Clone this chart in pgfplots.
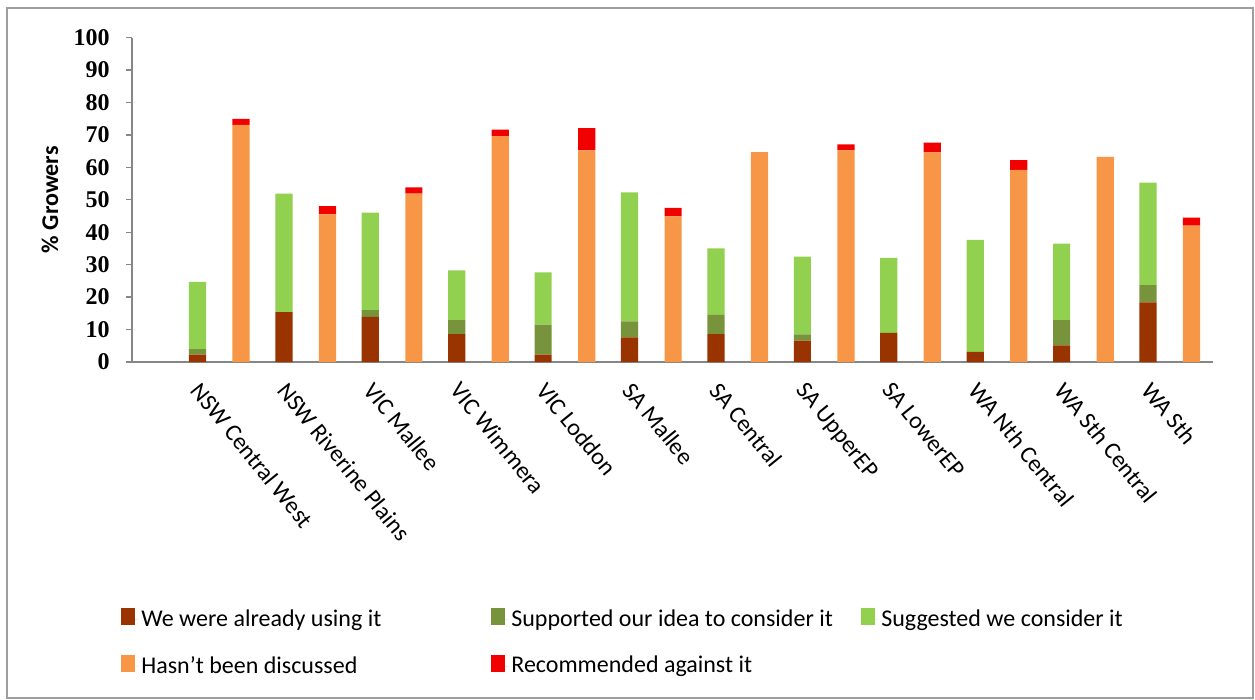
\documentclass[border=0pt]{standalone}
\usepackage{fontspec}
\setmainfont{Carlito}
\newfontfamily\numfont{Liberation Serif}
\usepackage{pgfplots}
\usepackage{pgfplotstable}
\pgfplotsset{compat=1.18}

\definecolor{usingbar}{RGB}{153,51,0}
\definecolor{supportbar}{RGB}{119,147,60}
\definecolor{suggestbar}{RGB}{146,208,80}
\definecolor{notdiscbar}{RGB}{247,150,70}
\definecolor{againstbar}{RGB}{240,0,0}
\definecolor{axisgray}{RGB}{134,134,134}

\pgfplotsset{
  sqlegend/.style={legend image code/.code={%
    \fill[##1] (0pt,-3pt) rectangle (7pt,5.5pt);
    \path (0pt,0pt) -- (8.5pt,0pt);}}
}
% fixed-width legend entries so the columns line up on a grid
\newcommand\legtext[1]{\makebox[173.5pt][l]{#1}}

% Two bars per region: left bar = adviser involvement (using / supported / suggested),
% right bar = not discussed / recommended against. Zeros keep the stacks apart.
\pgfplotstableread{
x       using support suggest notdisc against
-0.252  2.3   1.7     20.7    0       0
0.252   0     0       0       73.1    1.8
0.748   15.4  0       36.5    0       0
1.252   0     0       0       45.5    2.5
1.748   13.9  2.1     30.0    0       0
2.252   0     0       0       51.9    1.9
2.748   8.6   4.3     15.3    0       0
3.252   0     0       0       69.6    2.0
3.748   2.3   9.2     16.1    0       0
4.252   0     0       0       65.2    6.9
4.748   7.6   4.9     39.8    0       0
5.252   0     0       0       44.9    2.6
5.748   8.6   5.9     20.5    0       0
6.252   0     0       0       64.7    0
6.748   6.6   1.9     24.0    0       0
7.252   0     0       0       65.2    1.9
7.748   9.0   0       23.1    0       0
8.252   0     0       0       64.6    3.0
8.748   3.1   0       34.5    0       0
9.252   0     0       0       59.2    3.0
9.748   5.1   7.8     23.6    0       0
10.252  0     0       0       63.2    0
10.748  18.4  5.3     31.6    0       0
11.252  0     0       0       42.0    2.5
}\growers

\begin{document}
\begin{tikzpicture}
\path[use as bounding box] (0pt,0pt) rectangle (627.5pt,-350pt);
\draw[axisgray!80, line width=0.7pt] (3.5pt,-4pt) rectangle (626.5pt,-349pt);
\begin{axis}[
  at={(66pt,-181pt)}, anchor=south west,
  scale only axis, width=540.5pt, height=162.25pt,
  ybar stacked, bar width=8.6pt,
  xmin=-1.01, xmax=11.5, ymin=0, ymax=100,
  axis x line*=bottom, axis y line*=left,
  axis line style={draw=axisgray, line width=0.7pt},
  ytick={0,10,...,100},
  tick align=outside, major tick length=3pt,
  ytick style={draw=axisgray, line width=0.7pt},
  xtick style={draw=none},
  xtick={-0.19,0.81,1.81,2.81,3.81,4.81,5.81,6.81,7.81,8.81,9.81,10.81},
  xticklabels={NSW Central West, NSW Riverine Plains, VIC Mallee, VIC Wimmera,
    VIC Loddon, SA Mallee, SA Central, SA UpperEP, SA LowerEP,
    WA Nth Central, WA Sth Central, WA Sth},
  xticklabel style={rotate=-51, anchor=north west, inner sep=0pt,
    font=\fontsize{12}{14}\selectfont},
  xticklabel shift=6pt,
  /pgf/number format/assume math mode=true,
  yticklabel style={font=\numfont\bfseries\fontsize{12}{14}\selectfont,
    anchor=east, inner sep=0pt},
  yticklabel shift=8pt,
  ylabel={\% Growers},
  ylabel style={font=\bfseries\fontsize{12}{14}\selectfont,
    at={(axis description cs:-0.076,0.5)}, anchor=center},
  legend columns=3,
  legend cell align=left,
  legend style={at={(axis description cs:-0.0102,-0.752)}, anchor=north west,
    draw=none, fill=none, inner sep=0pt, row sep=10.5pt,
    font=\fontsize{12}{14}\selectfont,
    nodes={inner sep=1.5pt}},
]
\addplot[fill=usingbar, draw=none, sqlegend] table[x=x, y=using] {\growers};
\addlegendentry{\legtext{We were already using it}}
\addplot[fill=supportbar, draw=none, sqlegend] table[x=x, y=support] {\growers};
\addlegendentry{\legtext{Supported our idea to consider it}}
\addplot[fill=suggestbar, draw=none, sqlegend] table[x=x, y=suggest] {\growers};
\addlegendentry{\legtext{Suggested we consider it}}
\addplot[fill=notdiscbar, draw=none, sqlegend] table[x=x, y=notdisc] {\growers};
\addlegendentry{\legtext{Hasn't been discussed}}
\addplot[fill=againstbar, draw=none, sqlegend] table[x=x, y=against] {\growers};
\addlegendentry{\legtext{Recommended against it}}
\end{axis}
\end{tikzpicture}
\end{document}
